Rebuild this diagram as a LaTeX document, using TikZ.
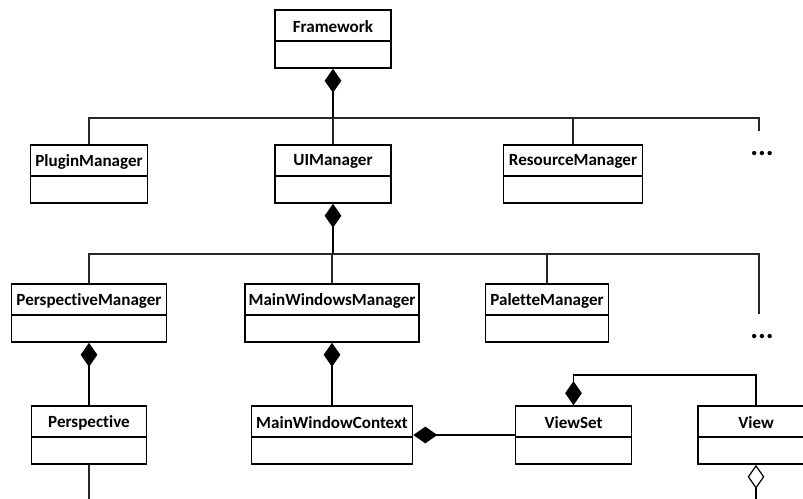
\documentclass[tikz,border=0pt]{standalone}
\usepackage{fontspec}
\setmainfont{Carlito}[Ligatures=NoCommon]
\usetikzlibrary{arrows.meta,calc}
\tikzset{
 cls/.style={draw, line width=1.2pt, rectangle, minimum height=43.5pt, inner sep=0pt, fill=white},
 lbl/.style={font=\bfseries\fontsize{12.8}{14}\selectfont, inner sep=0pt},
 conn/.style={line width=0.8pt, black!85},
 compo/.style={line width=1.1pt, black, {Diamond[length=18pt,width=12.5pt]}-},
 aggr/.style={line width=0.9pt, black, {Diamond[open,length=18pt,width=12.5pt,fill=white]}-},
 dotsl/.style={font=\bfseries\fontsize{22}{22}\selectfont, inner sep=0pt}
}
\newcommand\umlclass[5]{%
 \node[cls, minimum width=#4*0.75pt] (#1) at (#2,#3+29) {};
 \node[lbl] (#1-t) at (#2,#3+16.5) {#5};
 \draw[line width=1.2pt] ($(#1.north west)+(0,32)$) -- ($(#1.north east)+(0,32)$);
}
\begin{document}
\begin{tikzpicture}[x=0.75pt,y=-0.75pt]
\useasboundingbox (0,0) rectangle (803,499);
\clip (0,0) rectangle (803,499);
\fill[white] (0,0) rectangle (803,499);
% classes
\umlclass{fw}{333}{10}{116}{Framework}
\umlclass{plugin}{89}{145}{117}{PluginManager}
\umlclass{ui}{333}{145}{116}{UIManager}
\umlclass{res}{573}{145}{139}{ResourceManager}
\umlclass{persm}{89}{284}{155}{PerspectiveManager}
\umlclass{mwm}{332}{284}{174}{MainWindowsManager}
\umlclass{pal}{547}{284}{123}{PaletteManager}
\umlclass{persp}{89}{406}{115}{Perspective}
\umlclass{mwc}{332}{406}{161}{MainWindowContext}
\umlclass{vs}{573.5}{406}{116}{ViewSet}
\umlclass{view}{756}{406}{116}{View}
% dots
\node[dotsl] (dt1) at (762,154) {...};
\node[dotsl] (dt2) at (762,337) {...};
% helper coordinates
\coordinate (h1) at (333,118);
\coordinate (d1) at (759,131);
\coordinate (h2) at (333,254);
\coordinate (d2) at (759,314);
\coordinate (vt) at (573,375);
\coordinate (b1) at (89,499);
\coordinate (b2) at (756,499);
% level 1
\draw[compo] (fw.south) -- (h1);
\draw[conn] (plugin.north) |- (h1) -| (d1);
\draw[conn] (ui.north) -- (ui.north |- h1);
\draw[conn] (res.north) -- (res.north |- h1);
% level 2
\draw[compo] (ui.south) -- (h2);
\draw[conn] (persm.north) |- (h2) -| (d2);
\draw[conn] (mwm.north) -- (mwm.north |- h2);
\draw[conn] (pal.north) -- (pal.north |- h2);
% level 3
\draw[compo] (persm.south) -- (persp.north);
\draw[compo] (mwm.south) -- (mwc.north);
\draw[compo] (mwc.east) -- (vs.west);
\draw[compo] (vs.north) -- (vs.north |- vt) -| (view.north);
\draw[conn] (persp.south) -- (b1);
\draw[aggr] (view.south) -- (b2);
\end{tikzpicture}
\end{document}
